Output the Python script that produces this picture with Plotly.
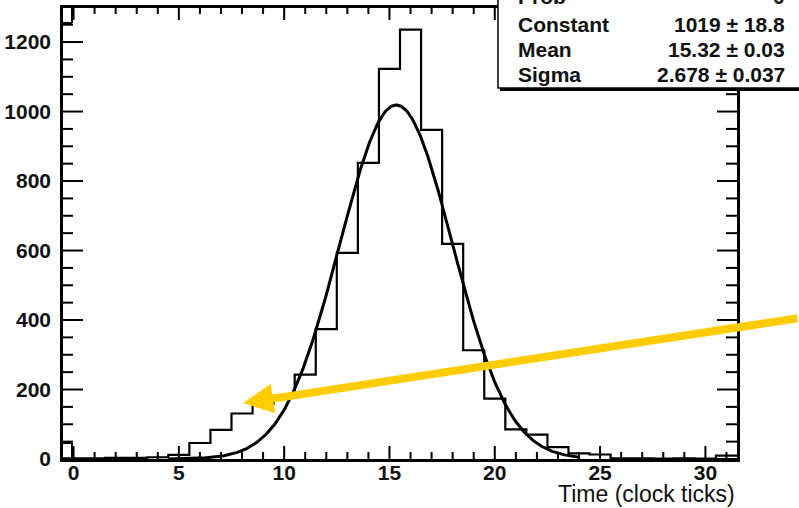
import numpy as np
import plotly.graph_objects as go

# Histogram: one bin per clock tick, centred on the integers 0..31
bin_centers = list(range(32))
counts = [2, 2, 3, 3, 5, 12, 46, 84, 131, 160, 182, 243, 374, 593, 852, 1123,
          1236, 947, 619, 313, 174, 85, 70, 34, 16, 13, 2, 2, 1, 2, 1, 10]

# Gaussian fit results (stat box)
fit_names = ["Prob", "Constant", "Mean", "Sigma"]
fit_values = [0.0, 1019.0, 15.32, 2.678]
fit_errors = [None, 18.8, 0.03, 0.037]
fit_text = ["0", "1019 \u00b1 18.8", "15.32 \u00b1 0.03", "2.678 \u00b1 0.037"]
fit_range = [4.5, 24.0]

x_ticks = [0, 5, 10, 15, 20, 25, 30]
x_minor = [v for v in range(0, 32) if v % 5 != 0]
y_ticks = [0, 200, 400, 600, 800, 1000, 1200]
y_minor = [v for v in range(0, 1300, 50) if v % 200 != 0]
x_title = "Time (clock ticks)"

X_RANGE = [-0.5, 31.5]
Y_RANGE = [0, 1298]

# arrow pointing at the low-side tail
arrow_tip = (8.06, 161)

W, H = 799, 508
ML, MR, MT, MB = 63, 62, 8, 49
PW, PH = W - ML - MR, H - MT - MB


def px(xp):
    return (xp - ML) / PW


def py(yp):
    return (H - MB - yp) / PH


FONT = "Liberation Sans, Arial, Helvetica, sans-serif"

centers = np.array(bin_centers, dtype=float)
edges = np.append(centers - 0.5, centers[-1] + 0.5)
hx = edges
hy = np.append(counts, counts[-1])

const, mean, sigma = fit_values[1], fit_values[2], fit_values[3]
fx = np.linspace(fit_range[0], fit_range[1], 400)
fy = const * np.exp(-0.5 * ((fx - mean) / sigma) ** 2)

# frame ticks on all four sides, pointing inwards (lengths given in pixels)
x_per_px = (X_RANGE[1] - X_RANGE[0]) / PW
y_per_px = (Y_RANGE[1] - Y_RANGE[0]) / PH
tx, ty = [], []
for vals, lb, lt in [(x_ticks, 13, 12), (x_minor, 7, 6)]:
    for v in vals:
        tx += [float(v), float(v), None, float(v), float(v), None]
        ty += [Y_RANGE[0], Y_RANGE[0] + lb * y_per_px, None,
               Y_RANGE[1], Y_RANGE[1] - lt * y_per_px, None]
for vals, ll, lr in [(y_ticks, 20, 20), (y_minor, 10, 11)]:
    for v in vals:
        tx += [X_RANGE[0], X_RANGE[0] + ll * x_per_px, None,
               X_RANGE[1], X_RANGE[1] - lr * x_per_px, None]
        ty += [float(v), float(v), None, float(v), float(v), None]

fig = go.Figure()
fig.add_trace(go.Scatter(x=hx, y=hy, mode="lines", line=dict(shape="hv", color="black", width=2.2),
                         hoverinfo="skip", showlegend=False))
fig.add_trace(go.Scatter(x=fx, y=fy, mode="lines", line=dict(color="black", width=3),
                         hoverinfo="skip", showlegend=False))
fig.add_trace(go.Scatter(x=tx, y=ty, mode="lines", line=dict(color="black", width=2),
                         connectgaps=False, hoverinfo="skip", showlegend=False))

tick_font = dict(family=FONT, size=21, color="#111111", weight="bold")

fig.update_xaxes(range=X_RANGE, tickmode="array", tickvals=x_ticks, ticks="", automargin=False,
                 showgrid=False, zeroline=False, showline=True, linecolor="black", linewidth=2.5,
                 mirror=True, tickfont=tick_font, ticklabelstandoff=-7)
fig.update_yaxes(range=Y_RANGE, tickmode="array", tickvals=y_ticks, ticks="", automargin=False,
                 showgrid=False, zeroline=False, showline=True, linecolor="black", linewidth=2.5,
                 mirror=True, tickfont=tick_font, ticklabelstandoff=5)

shapes = []
LINE = dict(color="black", width=2)
# small frame brackets near the left edge
shapes.append(dict(type="line", xref="paper", yref="paper", x0=px(63), x1=px(72), y0=py(23), y1=py(23),
                   line=LINE, layer="above"))
shapes.append(dict(type="line", xref="paper", yref="paper", x0=px(72), x1=px(72), y0=py(8), y1=py(23),
                   line=LINE, layer="above"))
shapes.append(dict(type="line", xref="paper", yref="paper", x0=px(63), x1=px(72), y0=py(443), y1=py(443),
                   line=LINE, layer="above"))
shapes.append(dict(type="line", xref="paper", yref="paper", x0=px(72), x1=px(72), y0=py(443), y1=py(459),
                   line=LINE, layer="above"))

# stat box with its drop shadow
shapes.append(dict(type="rect", xref="paper", yref="paper", x0=px(498), x1=px(830), y0=py(88), y1=py(-20),
                   fillcolor="white", line=dict(color="black", width=1.5), layer="above"))
shapes.append(dict(type="rect", xref="paper", yref="paper", x0=px(500), x1=px(830), y0=py(91), y1=py(88),
                   fillcolor="black", line=dict(width=0), layer="above"))

annotations = []
row_base = [3.5, 31.5, 56.5, 81.5]
for name, txt, yb in zip(fit_names, fit_text, row_base):
    yc = yb - 7.5
    annotations.append(dict(xref="paper", yref="paper", x=px(516), y=py(yc), text=name, showarrow=False,
                            xanchor="left", yanchor="middle",
                            font=dict(family=FONT, size=21, color="#111111", weight="bold")))
    annotations.append(dict(xref="paper", yref="paper", x=px(787), y=py(yc), text=txt, showarrow=False,
                            xanchor="right", yanchor="middle",
                            font=dict(family=FONT, size=21, color="#111111", weight="bold")))

annotations.append(dict(xref="paper", yref="paper", x=px(737), y=py(494), text=x_title, showarrow=False,
                        xanchor="right", yanchor="middle",
                        font=dict(family=FONT, size=23, color="#111111")))

annotations.append(dict(x=arrow_tip[0], y=arrow_tip[1], xref="x", yref="y", text="", showarrow=True,
                        ax=560, ay=-85, arrowhead=2, arrowsize=0.75, arrowwidth=8,
                        arrowcolor="#FFCC00", standoff=0))

fig.update_layout(width=W, height=H, margin=dict(l=ML, r=MR, t=MT, b=MB, autoexpand=False),
                  paper_bgcolor="white", plot_bgcolor="white",
                  shapes=shapes, annotations=annotations, showlegend=False)

fig.write_html("out.html")
